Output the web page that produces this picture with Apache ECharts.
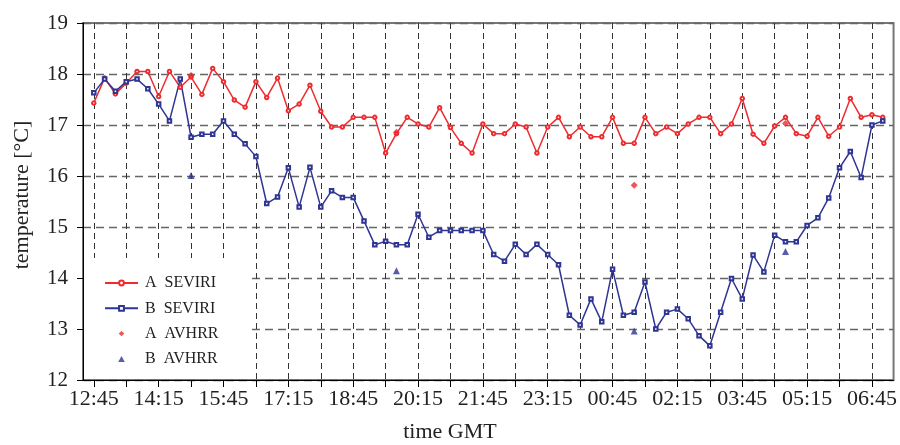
<!DOCTYPE html>
<html>
<head>
<meta charset="utf-8">
<script src="https://cdn.jsdelivr.net/npm/echarts@6/dist/echarts.min.js"></script>
<style>
html,body{margin:0;padding:0;background:#fff;}
#chart{width:900px;height:445px;}
</style>
</head>
<body>
<div id="chart"></div>
<script>
// x categories: 15-minute slots from 12:30 to 07:15 (first/last slots are empty padding)
const startMinutes = 12 * 60 + 30;
const slotCount = 76;
const categories = [];
for (let k = 0; k < slotCount; k++) {
  const m = (startMinutes + 15 * k) % (24 * 60);
  const hh = String(Math.floor(m / 60)).padStart(2, '0');
  const mm = String(m % 60).padStart(2, '0');
  categories.push(hh + ':' + mm);
}
const tickLabels = ['12:45','14:15','15:45','17:15','18:45','20:15','21:45','23:15','00:45','02:15','03:45','05:15','06:45'];

// A SEVIRI, every 15 min from 12:45 to 07:00
const aSeviri = [17.43,17.92,17.61,17.82,18.05,18.05,17.56,18.05,17.74,17.94,
  17.60,18.11,17.85,17.49,17.35,17.85,17.54,17.92,17.28,17.41,
  17.78,17.27,16.96,16.96,17.15,17.15,17.15,16.45,16.83,17.15,
  17.02,16.96,17.34,16.95,16.64,16.45,17.02,16.83,16.83,17.02,
  16.96,16.45,16.96,17.15,16.77,16.96,16.77,16.77,17.15,16.64,
  16.64,17.15,16.83,16.96,16.83,17.02,17.15,17.15,16.83,17.02,
  17.52,16.82,16.64,16.98,17.15,16.83,16.78,17.15,16.78,16.96,
  17.52,17.15,17.20,17.15];
// B SEVIRI
const bSeviri = [17.63,17.90,17.66,17.85,17.90,17.71,17.41,17.08,17.90,16.76,
  16.82,16.82,17.08,16.82,16.63,16.38,15.46,15.59,16.16,15.39,
  16.17,15.39,15.71,15.58,15.58,15.12,14.65,14.72,14.65,14.65,
  15.25,14.80,14.93,14.93,14.93,14.93,14.93,14.46,14.33,14.66,
  14.46,14.66,14.46,14.26,13.27,13.08,13.59,13.14,14.17,13.27,
  13.33,13.92,13.00,13.33,13.39,13.20,12.87,12.67,13.33,13.99,
  13.59,14.45,14.12,14.84,14.71,14.71,15.03,15.18,15.57,16.16,
  16.48,15.97,17.00,17.08];
// AVHRR overpasses
const avhrrTimes = ['15:00','19:45','01:15','04:45'];
const aAvhrr = [17.97,16.86,15.82,17.03];
const bAvhrr = [16.01,14.14,12.96,14.52];

const RED = '#ee2b2f';
const BLUE = '#2e3592';
const FONT = 'Liberation Serif';

const seriesPairs = arr => arr.map((v, i) => [i + 1, v]);
const avhrrPairs = arr => arr.map((v, i) => [categories.indexOf(avhrrTimes[i]), v]);

// legend icons: small marker centred in a 33x6 box (moveTo corners fix the box)
const diamondIcon = 'path://M0,0M33,0M33,6M0,6M16.5,0.3L19.3,3L16.5,5.7L13.7,3Z';
const triangleIcon = 'path://M0,0M33,0M33,6M0,6M16.5,0L19.8,6L13.2,6Z';

const chart = echarts.init(document.getElementById('chart'), null, {renderer: 'canvas'});
chart.setOption({
  animation: false,
  backgroundColor: '#fff',
  grid: {left: 83, right: 6, top: 23, bottom: 65, show: true, borderColor: '#777', borderWidth: 2, backgroundColor: 'transparent'},
  legend: {
    orient: 'vertical', left: 84, top: 258,
    backgroundColor: '#fff',
    padding: [17, 29, 12, 20],
    itemWidth: 33, itemHeight: 6, itemGap: 9.3,
    textStyle: {fontFamily: FONT, fontSize: 16, color: '#222', padding: [0, 0, 0, 2]},
    data: [
      {name: 'A  SEVIRI'},
      {name: 'B  SEVIRI'},
      {name: 'A  AVHRR', icon: diamondIcon},
      {name: 'B  AVHRR', icon: triangleIcon}
    ]
  },
  xAxis: {
    type: 'category', data: categories, boundaryGap: false,
    axisLine: {lineStyle: {color: '#000', width: 1}},
    axisTick: {show: true, length: 7, lineStyle: {color: '#000'}, interval: (idx) => (idx - 1) % 3 === 0},
    axisLabel: {
      fontFamily: FONT, fontSize: 22, color: '#222', margin: 8,
      interval: (idx, val) => tickLabels.indexOf(val) >= 0 && (idx - 1) % 6 === 0
    },
    splitLine: {show: true, interval: (idx) => (idx - 1) % 3 === 0, lineStyle: {color: '#333', type: [6, 4], width: 1}}
  },
  yAxis: {
    type: 'value', min: 12, max: 19, interval: 1,
    axisLine: {show: true, lineStyle: {color: '#000', width: 1}},
    axisTick: {show: true, length: 6, lineStyle: {color: '#000'}},
    axisLabel: {fontFamily: FONT, fontSize: 21, color: '#222', margin: 15},
    splitLine: {show: true, lineStyle: {color: '#666', type: [8, 5], width: 1.3}}
  },
  graphic: [
    {type: 'text', left: 'center', top: 421, style: {text: 'time GMT', font: '22px "Liberation Serif"', fill: '#222'}, z: 10},
    {type: 'text', x: 22, y: 195, rotation: Math.PI / 2, style: {text: 'temperature [\u00B0C]', font: '22px "Liberation Serif"', fill: '#222', align: 'center', verticalAlign: 'middle'}, z: 10}
  ],
  series: [
    {name: 'A  SEVIRI', type: 'line', data: seriesPairs(aSeviri), symbol: 'emptyCircle', symbolSize: 3.5,
      itemStyle: {color: RED, borderWidth: 1}, lineStyle: {color: RED, width: 1.5}, z: 3},
    {name: 'B  SEVIRI', type: 'line', data: seriesPairs(bSeviri), symbol: 'emptyRect', symbolSize: 3.5,
      itemStyle: {color: BLUE, borderWidth: 1}, lineStyle: {color: BLUE, width: 1.5}, z: 3},
    {name: 'A  AVHRR', type: 'scatter', data: avhrrPairs(aAvhrr), symbol: 'diamond', symbolSize: 7, symbolKeepAspect: true,
      itemStyle: {color: RED}, z: 5},
    {name: 'B  AVHRR', type: 'scatter', data: avhrrPairs(bAvhrr), symbol: 'triangle', symbolSize: 7, symbolKeepAspect: true,
      itemStyle: {color: BLUE}, z: 5}
  ]
});
</script>
</body>
</html>
